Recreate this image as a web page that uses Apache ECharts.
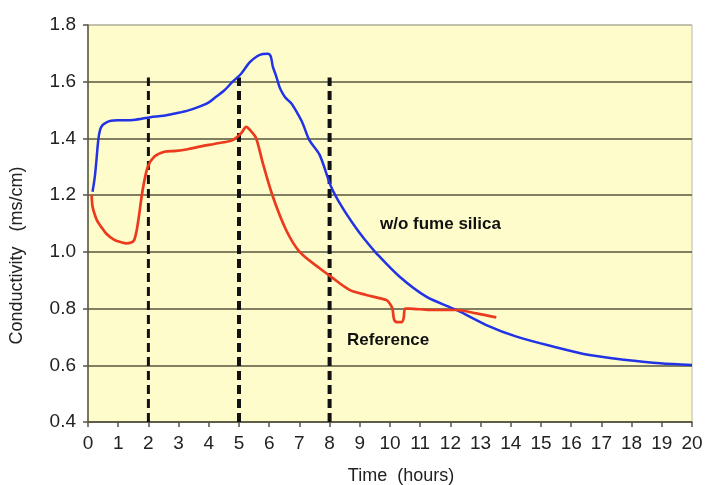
<!DOCTYPE html>
<html>
<head>
<meta charset="utf-8">
<title>Conductivity</title>
<script src="https://cdn.jsdelivr.net/npm/echarts@6/dist/echarts.min.js"></script>
<style>
  html, body { margin: 0; padding: 0; background: #ffffff; }
  #chart { width: 708px; height: 485px; }
</style>
</head>
<body>
<div id="chart"></div>
<script>
/* time axis ticks (hours) and conductivity ticks (ms/cm) */
var xTicks = [0, 20, 1];
var yTicks = [0.4, 1.8, 0.2];

/* w/o fume silica curve */
var blueTime = [0.15, 0.22, 0.27, 0.34, 0.4, 0.48, 0.6, 0.76, 1.0, 1.5, 2.07, 2.5, 2.92, 3.3, 3.69, 4.0, 4.24, 4.5, 4.79, 5.07, 5.35, 5.6, 5.79, 5.95, 6.05, 6.12, 6.23, 6.34, 6.45, 6.56, 6.73, 6.9, 7.11, 7.33, 7.67, 8.05, 8.4, 8.77, 9.15, 9.55, 10.32, 11.2, 12.2, 13.19, 14.19, 15.4, 16.6, 17.83, 18.94, 20];
var blueCond = [1.212, 1.26, 1.312, 1.394, 1.43, 1.447, 1.456, 1.462, 1.464, 1.465, 1.475, 1.48, 1.489, 1.498, 1.512, 1.527, 1.547, 1.568, 1.6, 1.628, 1.668, 1.69, 1.698, 1.699, 1.69, 1.653, 1.62, 1.582, 1.558, 1.541, 1.524, 1.495, 1.453, 1.394, 1.342, 1.23, 1.16, 1.10, 1.045, 0.995, 0.912, 0.842, 0.795, 0.742, 0.701, 0.666, 0.636, 0.619, 0.607, 0.601];

/* Reference curve */
var redTime = [0.12, 0.15, 0.21, 0.3, 0.43, 0.6, 0.87, 1.1, 1.26, 1.45, 1.53, 1.62, 1.70, 1.81, 1.98, 2.2, 2.53, 2.92, 3.3, 3.69, 4.3, 4.79, 5.07, 5.24, 5.4, 5.57, 5.79, 6.12, 6.56, 7.0, 7.67, 8.05, 8.66, 9.21, 9.88, 9.99, 10.08, 10.14, 10.25, 10.38, 10.45, 10.5, 10.65, 11.31, 12.2, 12.86, 13.52];
var redCond = [1.20, 1.16, 1.136, 1.11, 1.089, 1.065, 1.042, 1.034, 1.03, 1.034, 1.042, 1.08, 1.136, 1.218, 1.30, 1.336, 1.353, 1.356, 1.362, 1.371, 1.383, 1.394, 1.418, 1.441, 1.425, 1.40, 1.312, 1.195, 1.077, 1.001, 0.942, 0.912, 0.866, 0.848, 0.830, 0.818, 0.80, 0.76, 0.752, 0.752, 0.765, 0.80, 0.80, 0.795, 0.795, 0.783, 0.769];

/* dashed marker lines: time, and top of the line */
var markTime = [2, 5, 8];
var markTop = [1.615, 1.615, 1.615];
var markWidth = [3, 4, 4];

var font = 'Liberation Sans, Arial, sans-serif';

function pairs(xs, ys) {
  var out = [];
  for (var i = 0; i < xs.length; i++) {
    out.push([xs[i], ys[i]]);
  }
  return out;
}

var myChart = echarts.init(document.getElementById('chart'), null, { renderer: 'canvas' });

var series = [];
markTime.forEach(function (t, i) {
  series.push({
    type: 'line',
    data: [[t, yTicks[0]], [t, markTop[i]]],
    showSymbol: false,
    silent: true,
    z: 3,
    lineStyle: { color: '#111111', width: markWidth[i], type: [9, 5] }
  });
});
series.push({
  name: 'w/o fume silica',
  type: 'line',
  data: pairs(blueTime, blueCond),
  showSymbol: false,
  smooth: 0.3,
  z: 4,
  lineStyle: { color: '#2233e6', width: 2.5 }
});
series.push({
  name: 'Reference',
  type: 'line',
  data: pairs(redTime, redCond),
  showSymbol: false,
  smooth: 0.3,
  z: 4,
  lineStyle: { color: '#ec3a1e', width: 2.7 }
});

var gridColor = '#57563f';
var splitColors = [];
for (var k = 0; k < 7; k++) splitColors.push(gridColor);
splitColors.push('#b9b8a6');

var option = {
  backgroundColor: '#ffffff',
  animation: false,
  grid: {
    left: 88,
    right: 16,
    top: 25,
    bottom: 63,
    outerBoundsMode: 'none',
    show: true,
    backgroundColor: '#fefccb',
    borderColor: '#b9b8a6',
    borderWidth: 1
  },
  xAxis: {
    type: 'value',
    min: xTicks[0],
    max: xTicks[1],
    interval: xTicks[2],
    name: 'Time  (hours)',
    nameLocation: 'middle',
    nameGap: 45,
    nameTextStyle: { fontFamily: font, fontSize: 18, color: '#222222', padding: [0, 0, 0, 22] },
    axisLine: { lineStyle: { color: gridColor, width: 1.5 } },
    axisTick: { show: true, length: 5, lineStyle: { color: gridColor, width: 1.5 } },
    axisLabel: { fontFamily: font, fontSize: 19, color: '#222222', margin: 12 },
    splitLine: { show: false }
  },
  yAxis: {
    type: 'value',
    min: yTicks[0],
    max: yTicks[1],
    interval: yTicks[2],
    name: 'Conductivity   (ms/cm)',
    nameLocation: 'middle',
    nameGap: 62,
    nameRotate: 90,
    nameTextStyle: { fontFamily: font, fontSize: 18, color: '#222222', padding: [0, 64, 0, 0] },
    axisLine: { show: true, lineStyle: { color: gridColor, width: 1.5 } },
    axisTick: { show: true, length: 5, lineStyle: { color: gridColor, width: 1.5 } },
    axisLabel: {
      fontFamily: font, fontSize: 19, color: '#222222', margin: 12,
      formatter: function (v) { return v.toFixed(1); }
    },
    splitLine: { show: true, lineStyle: { color: splitColors, width: 1.5 } }
  },
  graphic: [
    {
      type: 'text', left: 380, top: 216, z: 10,
      style: { text: 'w/o fume silica', font: 'bold 17px ' + font, fill: '#111111' }
    },
    {
      type: 'text', left: 347, top: 332, z: 10,
      style: { text: 'Reference', font: 'bold 17px ' + font, fill: '#111111' }
    }
  ],
  series: series
};

myChart.setOption(option);
</script>
</body>
</html>
